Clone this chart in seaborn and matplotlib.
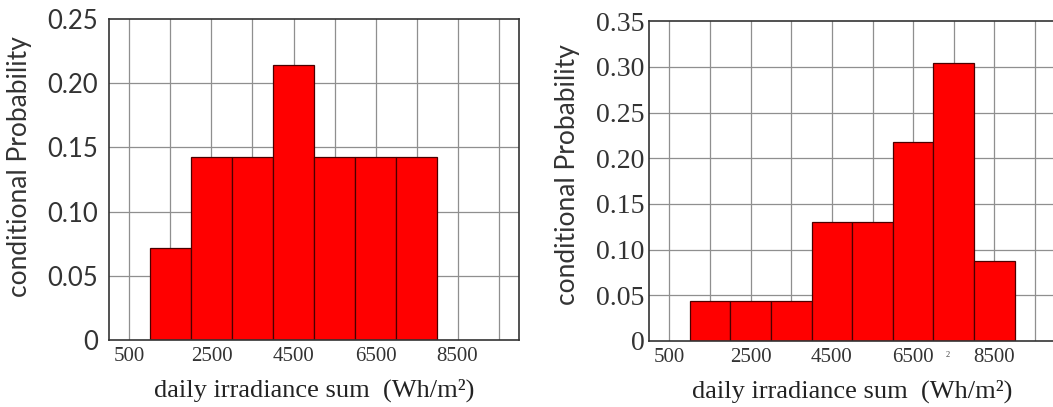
import numpy as np
import pandas as pd
import matplotlib
matplotlib.use("Agg")
import matplotlib.pyplot as plt
import matplotlib.transforms as mtransforms
import seaborn as sns

# Histogram bins (Wh/m^2) and conditional probabilities per bin
left_edges = [1000, 2000, 3000, 4000, 5000, 6000, 7000, 8000]
left_prob = [0.0714, 0.1429, 0.1429, 0.2143, 0.1429, 0.1429, 0.1429]

right_edges = [1000, 2000, 3000, 4000, 5000, 6000, 7000, 8000, 9000]
right_prob = [0.0435, 0.0435, 0.0435, 0.1304, 0.1304, 0.2174, 0.3043, 0.0870]

x_ticks = [500, 2500, 4500, 6500, 8500]
x_tick_labels = ["500", "2500", "4500", "6500", "8500"]
left_y_ticks = [0, 0.05, 0.10, 0.15, 0.20, 0.25]
left_y_labels = ["0", "0.05", "0.10", "0.15", "0.20", "0.25"]
right_y_ticks = [0, 0.05, 0.10, 0.15, 0.20, 0.25, 0.30, 0.35]
right_y_labels = ["0", "0.05", "0.10", "0.15", "0.20", "0.25", "0.30", "0.35"]

x_label = "daily irradiance sum  (Wh/m²)"
y_label = "conditional Probability"

sns.set_theme(style="white")
plt.rcParams["font.family"] = ["Liberation Serif", "DejaVu Serif"]

fig = plt.figure(figsize=(10.53, 4.07), dpi=100)
ax_l = fig.add_axes([0.1035, 0.1646, 0.3894, 0.7887])
ax_r = fig.add_axes([0.6163, 0.1622, 0.3860, 0.7858])

SANS = ["Lato", "DejaVu Sans"]
SERIF = ["Liberation Serif", "DejaVu Serif"]


def draw_panel(ax, edges, probs, yticks, ylabels, ytick_font, ytick_size,
               ytick_pad, ylabel_size, ylabel_pad, ylabel_y):
    centers = [(a + b) / 2 for a, b in zip(edges[:-1], edges[1:])]
    df = pd.DataFrame({"irr": centers, "p": probs})
    sns.histplot(data=df, x="irr", weights="p", bins=list(edges), stat="count",
                 color="#ff0000", alpha=1.0, edgecolor="#4a0000",
                 linewidth=0.9, ax=ax, zorder=2)
    ax.set_xlim(0, 10000)
    ax.set_ylim(yticks[0], yticks[-1])
    # light grid every 1000 along x and at each y tick
    for gx in np.arange(500, 10000, 1000):
        ax.axvline(gx, color="#8f8f8f", lw=0.9, zorder=1)
    for gy in yticks[1:-1]:
        ax.axhline(gy, color="#8f8f8f", lw=0.9, zorder=1)
    ax.set_xticks(x_ticks)
    ax.set_xticklabels(x_tick_labels, family=SERIF, fontsize=15, color="#333333")
    ax.set_yticks(yticks)
    ax.set_yticklabels(ylabels, family=ytick_font, fontsize=ytick_size, color="#333333")
    ax.tick_params(axis="x", length=0, pad=5)
    ax.tick_params(axis="y", length=0, pad=ytick_pad)
    ax.set_xlabel(x_label, family=SERIF, fontsize=19, color="#222222", labelpad=9)
    ax.set_ylabel(y_label, family=SANS, fontsize=ylabel_size, color="#333333",
                  labelpad=ylabel_pad)
    ax.yaxis.label.set_y(ylabel_y)
    for s in ax.spines.values():
        s.set_color("#333333")
        s.set_linewidth(1.2)
        s.set_visible(True)


draw_panel(ax_l, left_edges, left_prob, left_y_ticks, left_y_labels,
           SANS, 18.5, 8, 19, 11, 0.54)
draw_panel(ax_r, right_edges, right_prob, right_y_ticks, right_y_labels,
           SERIF, 20, 3, 19, 12, 0.52)

# small subscript digit beside the 6500 tick of the right panel
trans = mtransforms.blended_transform_factory(ax_r.transData, ax_r.transAxes)
ax_r.text(7345, -0.045, "2", transform=trans, family=SERIF, fontsize=6,
          color="#444444", ha="center", va="center")

fig.savefig("out.png", dpi=100)
